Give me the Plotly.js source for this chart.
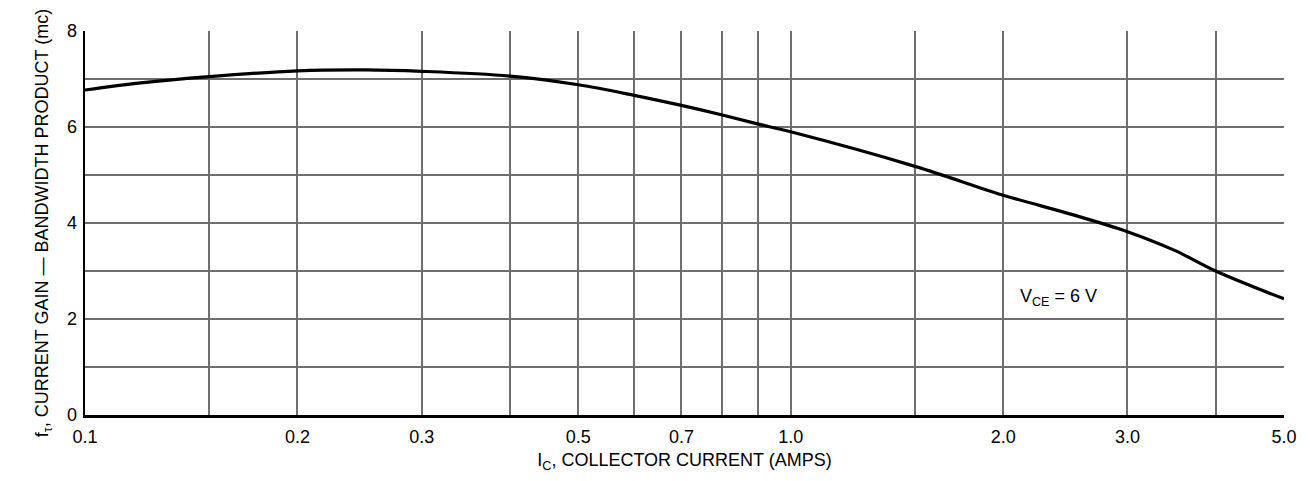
<!DOCTYPE html>
<html>
<head>
<meta charset="utf-8">
<script src="https://cdn.plot.ly/plotly-3.0.1.min.js"></script>
<style>
  html, body { margin: 0; padding: 0; background: #fff; }
  #chart { width: 1310px; height: 481px; }
</style>
</head>
<body>
<div id="chart"></div>
<script>
// Collector current (A)
const currentA = [0.1, 0.12, 0.15, 0.2, 0.25, 0.3, 0.4, 0.5, 0.6, 0.7, 0.8, 0.9, 1.0, 1.5, 2.0, 2.5, 3.0, 3.5, 4.0, 5.0];
// fT, current gain-bandwidth product (mc)
const fT = [6.77, 6.92, 7.05, 7.17, 7.19, 7.16, 7.06, 6.88, 6.66, 6.45, 6.25, 6.06, 5.90, 5.18, 4.58, 4.18, 3.82, 3.43, 3.00, 2.42];

// X labelled ticks and extra (unlabelled) grid lines
const xTicks = [0.1, 0.2, 0.3, 0.5, 0.7, 1.0, 2.0, 3.0, 5.0];
const xTickLabels = ['0.1', '0.2', '0.3', '0.5', '0.7', '1.0', '2.0', '3.0', '5.0'];
const xExtraGrid = [0.15, 0.4, 0.6, 0.8, 0.9, 1.5, 4.0];
// Y labelled ticks and extra grid lines
const yTicks = [0, 2, 4, 6, 8];
const yTickLabels = ['0', '2', '4', '6', '8'];
const yExtraGrid = [1, 3, 5, 7];

const curveLabel = 'V<sub>CE</sub> = 6 V';
const curveLabelPos = {x: 2.1, y: 2.44};

const FONT = '"Liberation Sans", Arial, Helvetica, sans-serif';
const GRID = '#6e6e6e';

const trace = {
  x: currentA,
  y: fT,
  type: 'scatter',
  mode: 'lines',
  line: {color: '#000', width: 3.2, shape: 'spline', smoothing: 1},
  hoverinfo: 'skip'
};

const layout = {
  width: 1310,
  height: 481,
  margin: {l: 85, r: 26, t: 31, b: 66},
  paper_bgcolor: '#fff',
  plot_bgcolor: '#fff',
  showlegend: false,
  font: {family: FONT, color: '#000', size: 18},
  xaxis: {
    type: 'log',
    range: [Math.log10(0.1), Math.log10(5.0)],
    tickmode: 'array',
    tickvals: xTicks,
    ticktext: xTickLabels,
    ticks: '',
    showgrid: true,
    gridcolor: GRID,
    gridwidth: 2,
    minor: {tickmode: 'array', tickvals: xExtraGrid, showgrid: true, gridcolor: GRID, gridwidth: 2, ticks: ''},
    zeroline: false,
    showline: true,
    linecolor: '#000',
    linewidth: 2.5,
    tickfont: {family: FONT, size: 18, color: '#000'},
    ticklabelstandoff: 4,
    title: {text: 'I<sub>C</sub>, COLLECTOR CURRENT (AMPS)', font: {family: FONT, size: 18, color: '#000'}, standoff: 8},
    fixedrange: true
  },
  yaxis: {
    range: [0, 8],
    tickmode: 'array',
    tickvals: yTicks,
    ticktext: yTickLabels,
    ticks: '',
    showgrid: true,
    gridcolor: GRID,
    gridwidth: 2,
    minor: {tickmode: 'array', tickvals: yExtraGrid, showgrid: true, gridcolor: GRID, gridwidth: 2, ticks: ''},
    zeroline: false,
    showline: true,
    linecolor: '#000',
    linewidth: 2.5,
    tickfont: {family: FONT, size: 18, color: '#000'},
    ticklabelstandoff: 2,
    title: {text: 'f<sub>τ</sub>, CURRENT GAIN — BANDWIDTH PRODUCT (mc)', font: {family: FONT, size: 18, color: '#000'}, standoff: 14},
    fixedrange: true
  },
  annotations: [{
    x: Math.log10(curveLabelPos.x),
    y: curveLabelPos.y,
    xref: 'x', yref: 'y',
    text: curveLabel,
    showarrow: false,
    xanchor: 'left',
    yanchor: 'middle',
    font: {family: FONT, size: 18, color: '#000'}
  }]
};

Plotly.newPlot('chart', [trace], layout, {staticPlot: true, displayModeBar: false});
</script>
</body>
</html>
